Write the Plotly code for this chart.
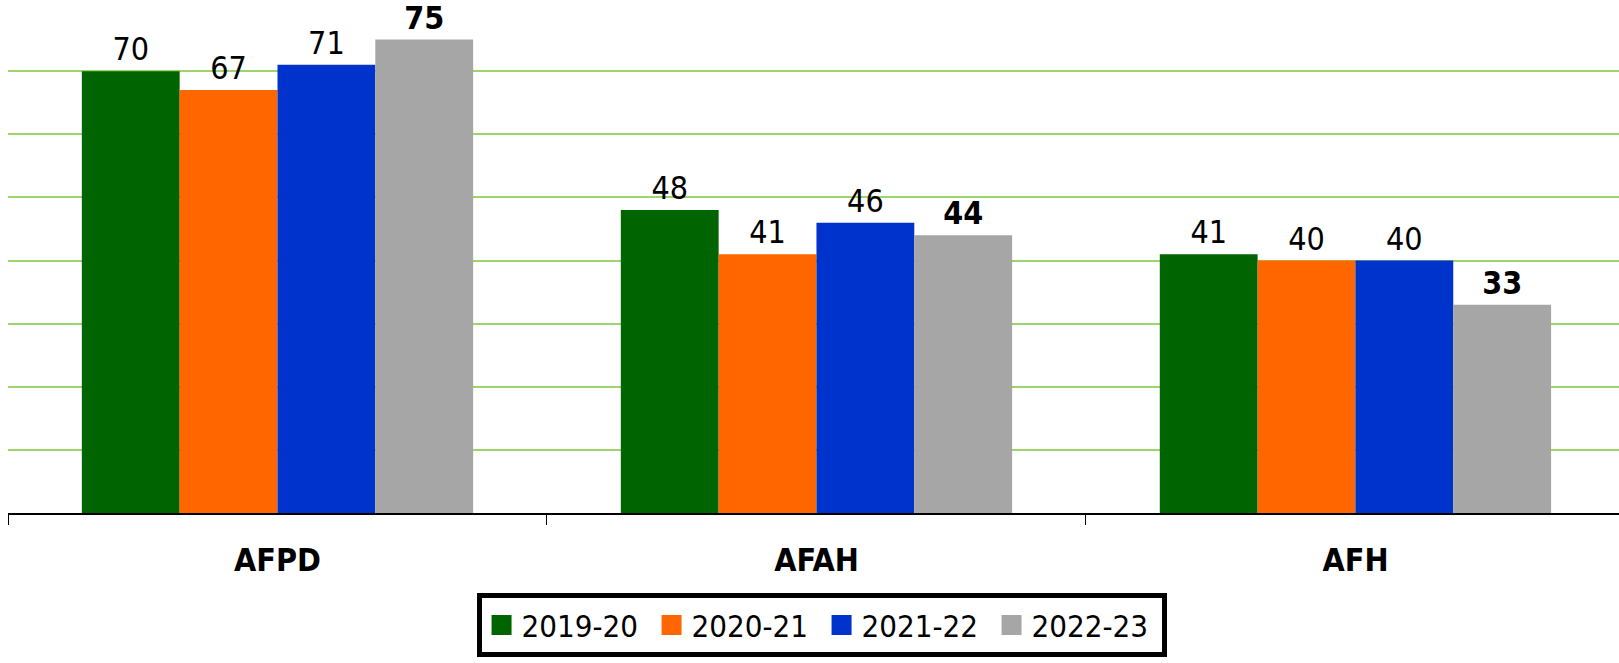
import plotly.graph_objects as go

categories = ["AFPD", "AFAH", "AFH"]
series_names = ["2019-20", "2020-21", "2021-22", "2022-23"]
v_2019_20 = [70, 48, 41]
v_2020_21 = [67, 41, 40]
v_2021_22 = [71, 46, 40]
v_2022_23 = [75, 44, 33]
colors = ["#006400", "#FF6600", "#0033CC", "#A6A6A6"]
bold_labels = [False, False, False, True]

FONT = "DejaVu Sans Condensed, DejaVu Sans, sans-serif"

fig = go.Figure()
for name, vals, col, bold in zip(series_names, [v_2019_20, v_2020_21, v_2021_22, v_2022_23], colors, bold_labels):
    fig.add_trace(go.Bar(
        x=categories, y=vals, name=name, marker=dict(color=col, line=dict(width=0)),
        text=vals, texttemplate="<b>%{y}</b>" if bold else "%{y}",
        textposition="outside", cliponaxis=False,
        textfont=dict(family=FONT, size=32, color="black"),
        showlegend=False,
    ))
for name, col in zip(series_names, colors):
    fig.add_trace(go.Scatter(
        x=[None], y=[None], mode="markers", name=name,
        marker=dict(symbol="square", size=16, color=col, line=dict(color=col, width=4)),
        showlegend=True,
    ))

fig.update_layout(
    width=1619, height=663,
    margin=dict(l=8, r=0, t=8, b=150),
    paper_bgcolor="white", plot_bgcolor="white",
    barmode="group", bargap=0.274, bargroupgap=0,
    font=dict(family=FONT, color="black"),
    legend=dict(
        orientation="h", x=0.505, xanchor="center", y=-0.159, yanchor="top",
        bordercolor="black", borderwidth=5, bgcolor="white",
        font=dict(family=FONT, size=31, color="black"),
        entrywidth=125, entrywidthmode="pixels",
        itemclick=False, itemdoubleclick=False,
    ),
    xaxis=dict(
        type="category", range=[-0.5, 2.489],
        showline=True, linecolor="black", linewidth=1.5,
        ticks="outside", tickson="boundaries", ticklen=10, tickcolor="black", tickwidth=1,
        tickfont=dict(family=FONT, size=32, color="black", weight="bold"),
        ticklabelstandoff=18,
        showgrid=False,
    ),
    yaxis=dict(
        range=[0, 80], dtick=10, showgrid=True, gridcolor="#9ED46E", gridwidth=1.5,
        showticklabels=False, zeroline=False, showline=False, ticks="",
    ),
)

post = (
    "document.body.style.margin='0';"
    "var s=document.createElement('style');"
    "s.textContent='svg text{font-stretch:condensed;}';"
    "document.head.appendChild(s);"
)
fig.write_html("out.html", post_script=post, config={"displayModeBar": False})
